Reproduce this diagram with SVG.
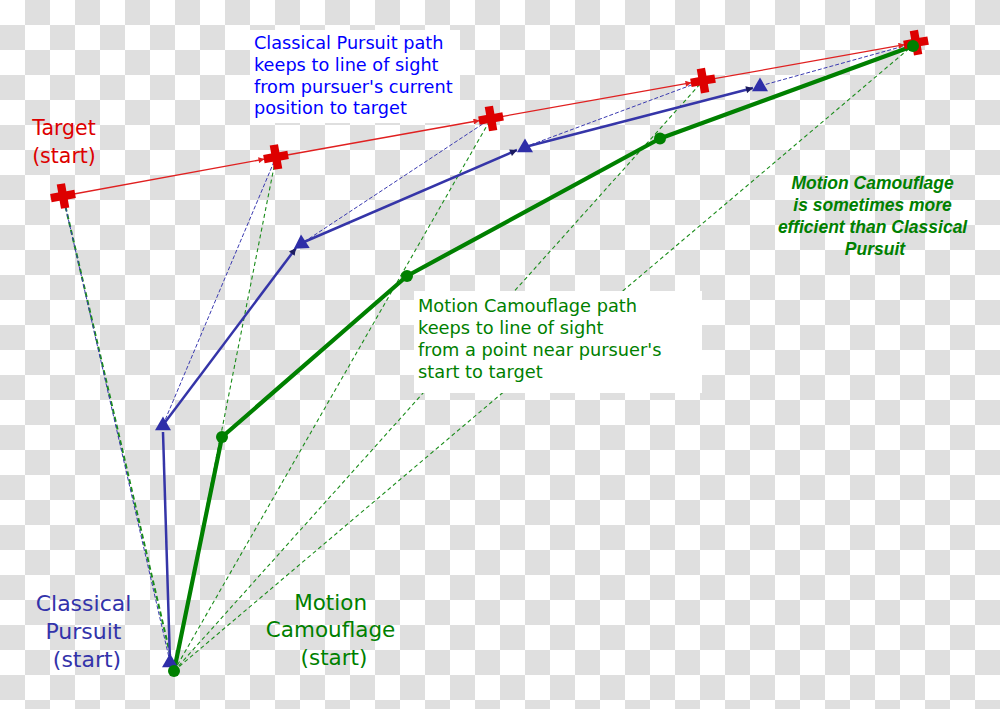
<svg xmlns="http://www.w3.org/2000/svg" width="1000" height="709" viewBox="0 0 1000 709">
<style>
.redline{stroke:#e02020;stroke-width:1.3;fill:none}
.bluepath{stroke:#3535a8;stroke-width:2.5;fill:none}
.bluedash{stroke:#3a3ab0;stroke-width:1;stroke-dasharray:4,2;fill:none}
.greenpath{stroke:#008000;stroke-width:4.2;fill:none;stroke-linejoin:round}
.greendash{stroke:#1a8c1a;stroke-width:1.1;stroke-dasharray:4,3;fill:none}
.cross{fill:#dd0000}
.tri{fill:#2e2ea8}
.dot{fill:#008000}
.t{font-family:"DejaVu Sans",Verdana,sans-serif}
</style>
<defs>
<pattern id="checker" patternUnits="userSpaceOnUse" width="50" height="50">
<rect width="50" height="50" fill="#ffffff"/>
<rect x="25" y="0" width="25" height="25" fill="#dfdfdf"/>
<rect x="0" y="25" width="25" height="25" fill="#dfdfdf"/>
</pattern>
<marker id="ar" viewBox="0 0 10 10" refX="10" refY="5" markerWidth="7" markerHeight="6" markerUnits="userSpaceOnUse" orient="auto">
<path d="M0,0 L10,5 L0,10 Z" fill="#e02020"/>
</marker>
<marker id="ab" viewBox="0 0 10 10" refX="10" refY="5" markerWidth="8" markerHeight="7" markerUnits="userSpaceOnUse" orient="auto">
<path d="M0,0 L10,5 L0,10 Z" fill="#1c1c60"/>
</marker>
<path id="crossShape" d="M-4.2,-12.3 H4.2 V-4.2 H12.3 V4.2 H4.2 V12.3 H-4.2 V4.2 H-12.3 V-4.2 H-4.2 Z"/>
<path id="triShape" d="M0,-8.5 L8,5.2 L-8,5.2 Z"/>
</defs>

<rect width="1000" height="709" fill="url(#checker)"/>

<g id="connectors">
  <!-- green dashed lines of sight from reference point -->
  <line class="greendash" x1="174" y1="671" x2="63" y2="196" style="stroke-width:2;stroke-dasharray:5,3"/>
  <line class="greendash" x1="174" y1="671" x2="276" y2="157"/>
  <line class="greendash" x1="174" y1="671" x2="491" y2="118.5"/>
  <line class="greendash" x1="174" y1="671" x2="703" y2="80.7"/>
  <line class="greendash" x1="174" y1="671" x2="916" y2="42.7"/>
  <!-- blue dashed lines of sight -->
  <line class="bluedash" x1="170" y1="662" x2="63" y2="196"/>
  <line class="bluedash" x1="163" y1="425" x2="276" y2="157"/>
  <line class="bluedash" x1="304" y1="242" x2="491" y2="118.5"/>
  <line class="bluedash" x1="525" y1="147" x2="703" y2="80.7"/>
  <line class="bluedash" x1="760" y1="86" x2="916" y2="42.7"/>
  <!-- target path -->
  <line class="redline" x1="63" y1="196" x2="264.5" y2="159.1" marker-end="url(#ar)"/>
  <line class="redline" x1="276" y1="157" x2="479.5" y2="120.5" marker-end="url(#ar)"/>
  <line class="redline" x1="491" y1="118.5" x2="691.5" y2="82.7" marker-end="url(#ar)"/>
  <line class="redline" x1="703" y1="80.7" x2="904.5" y2="44.7" marker-end="url(#ar)"/>
  <!-- classical pursuit path -->
  <line class="bluepath" x1="170" y1="662" x2="163" y2="432"/>
  <line class="bluepath" x1="163" y1="425" x2="296" y2="248" marker-end="url(#ab)"/>
  <line class="bluepath" x1="304" y1="242" x2="517" y2="150" marker-end="url(#ab)"/>
  <line class="bluepath" x1="525" y1="147" x2="753" y2="88" marker-end="url(#ab)"/>
  <!-- motion camouflage path -->
  <polyline class="greenpath" points="174,671 222,437 407,276 660,138.5 913,46"/>
</g>

<g id="target-points">
  <use href="#crossShape" class="cross" transform="translate(63,196) rotate(-10)"/>
  <use href="#crossShape" class="cross" transform="translate(276,157) rotate(-10)"/>
  <use href="#crossShape" class="cross" transform="translate(491,118.5) rotate(-10)"/>
  <use href="#crossShape" class="cross" transform="translate(703,80.7) rotate(-10)"/>
  <use href="#crossShape" class="cross" transform="translate(916,42.7) rotate(-10)"/>
</g>

<g id="pursuer-points">
  <use href="#triShape" class="tri" transform="translate(170,662)"/>
  <use href="#triShape" class="tri" transform="translate(163,425)"/>
  <use href="#triShape" class="tri" transform="translate(301,244) rotate(-123)"/>
  <use href="#triShape" class="tri" transform="translate(525,147)"/>
  <use href="#triShape" class="tri" transform="translate(760,86)"/>
</g>

<g id="camouflage-points">
  <circle class="dot" cx="174" cy="671" r="6"/>
  <circle class="dot" cx="222" cy="437" r="6"/>
  <circle class="dot" cx="407" cy="276" r="6"/>
  <circle class="dot" cx="660" cy="138.5" r="6"/>
  <circle class="dot" cx="913" cy="46" r="6"/>
</g>

<g id="label-target">
  <text class="t" x="64" y="135" text-anchor="middle" font-size="20.5" fill="#dd0000">Target</text>
  <text class="t" x="64" y="163" text-anchor="middle" font-size="20.5" fill="#dd0000">(start)</text>
</g>

<g id="label-classical-path">
  <rect x="250" y="30" width="210" height="93" fill="#ffffff"/>
  <text class="t" font-size="17.7" fill="#0000ff">
    <tspan x="254" y="49">Classical Pursuit path</tspan>
    <tspan x="254" y="70.8">keeps to line of sight</tspan>
    <tspan x="254" y="92.6">from pursuer's current</tspan>
    <tspan x="254" y="114.4">position to target</tspan>
  </text>
</g>

<g id="label-camouflage-path">
  <rect x="414" y="291" width="288" height="102" fill="#ffffff"/>
  <text class="t" font-size="17.8" fill="#008000">
    <tspan x="418" y="311.7">Motion Camouflage path</tspan>
    <tspan x="418" y="333.9">keeps to line of sight</tspan>
    <tspan x="418" y="356.1">from a point near pursuer's</tspan>
    <tspan x="418" y="378.3">start to target</tspan>
  </text>
</g>

<g id="label-efficient">
  <text font-family="'Liberation Sans',Arial,sans-serif" font-weight="bold" font-style="italic" font-size="17.5" fill="#008000" text-anchor="middle">
    <tspan x="875" y="189.3">Motion Camouflage</tspan>
    <tspan x="875" y="211.2">is sometimes more</tspan>
    <tspan x="875" y="233.1">efficient than Classical</tspan>
    <tspan x="875" y="255">Pursuit</tspan>
  </text>
</g>

<g id="label-classical-start">
  <text class="t" font-size="22" fill="#3333aa" text-anchor="middle">
    <tspan x="87" y="611">Classical</tspan>
    <tspan x="87" y="639">Pursuit</tspan>
    <tspan x="87" y="667">(start)</tspan>
  </text>
</g>

<g id="label-camouflage-start">
  <text class="t" font-size="21.5" fill="#008000" text-anchor="middle">
    <tspan x="334" y="609.5">Motion</tspan>
    <tspan x="334" y="637">Camouflage</tspan>
    <tspan x="334" y="665">(start)</tspan>
  </text>
</g>
</svg>
